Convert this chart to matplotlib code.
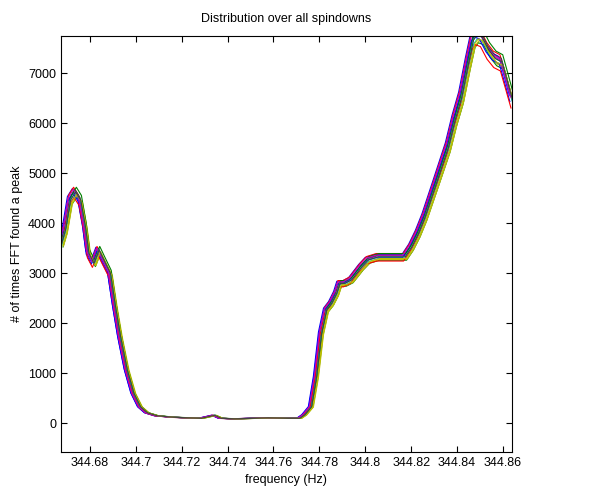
#!/usr/bin/env python3
"""Peak-count distribution over all spindowns."""

import numpy as np
import matplotlib
matplotlib.use("Agg")
import matplotlib.pyplot as plt

# base curve (frequency in Hz, count)
freq = [344.6674, 344.6691, 344.6713, 344.6735, 344.6757, 344.6778, 344.6793,
        344.6815, 344.6837, 344.6858, 344.6887, 344.6909, 344.6931, 344.6960,
        344.6989, 344.7018, 344.7048, 344.7091, 344.7166, 344.7283, 344.7341,
        344.7370, 344.7428, 344.7516, 344.7574, 344.7661, 344.7712, 344.7734,
        344.7763, 344.7785, 344.7807, 344.7829, 344.7851, 344.7873, 344.7887,
        344.7909, 344.7938, 344.7982, 344.8011, 344.8054, 344.8098, 344.8142,
        344.8171, 344.8200, 344.8229, 344.8258, 344.8302, 344.8331, 344.8360,
        344.8389, 344.8418, 344.8447, 344.8469, 344.8484, 344.8506, 344.8535,
        344.8564, 344.8593, 344.8615, 344.8639]
counts = [3600, 3870, 4470, 4630, 4470, 3930, 3400, 3200, 3470, 3270,
          3000, 2330, 1730, 1070, 600, 330, 210, 150, 120, 100,
          160, 100, 90, 100, 110, 100, 100, 170, 330, 930,
          1800, 2270, 2400, 2600, 2800, 2800, 2870, 3130, 3270, 3330,
          3330, 3330, 3330, 3530, 3800, 4130, 4730, 5130, 5530, 6070,
          6530, 7200, 7670, 7770, 7730, 7470, 7300, 7230, 6870, 6470]

# spread of the individual spindown traces (Hz shift, relative count scale)
shift_hz = [-0.0011, 0.0009, -0.0006, 0.0004, -0.0002, 0.0011, 0.0000,
            -0.0009, 0.0006, -0.0004, 0.0002, -0.0007, 0.0008, 0.0003]
scale_ct = [1.015, 0.98, 1.02, 0.99, 1.005, 0.985, 1.01,
            0.995, 1.02, 0.975, 1.0, 1.01, 0.99, 1.0]

colors = [(0, 0, 1), (0, 0.5, 0), (1, 0, 0), (0, 0.75, 0.75),
          (0.75, 0, 0.75), (0.75, 0.75, 0), (0.25, 0.25, 0.25)]

plt.rcParams["font.family"] = ["Liberation Sans", "DejaVu Sans"]
plt.rcParams["font.size"] = 9

fig = plt.figure(figsize=(6.11, 4.98), dpi=100)
ax = fig.add_axes([0.0998, 0.0924, 0.738, 0.835])

f = np.array(freq)
c = np.array(counts)
for i, (dx, k) in enumerate(zip(shift_hz, scale_ct)):
    ax.plot(f + dx, c * k, color=colors[i % len(colors)], lw=0.8)

ax.set_xlim(344.6674, 344.8639)
ax.set_ylim(-574, 7746)
ax.set_xticks(np.arange(344.68, 344.861, 0.02))
ax.set_xticklabels(["344.68", "344.7", "344.72", "344.74", "344.76",
                    "344.78", "344.8", "344.82", "344.84", "344.86"])
ax.set_yticks(np.arange(0, 7001, 1000))
ax.tick_params(direction="in", length=4, top=True, right=True, width=0.8)
for s in ax.spines.values():
    s.set_linewidth(0.8)

ax.set_title("Distribution over all spindowns", fontsize=9, pad=10)
ax.set_xlabel("frequency (Hz)", fontsize=9)
ax.set_ylabel("# of times FFT found a peak", fontsize=9)

fig.savefig("out.png", dpi=100)
